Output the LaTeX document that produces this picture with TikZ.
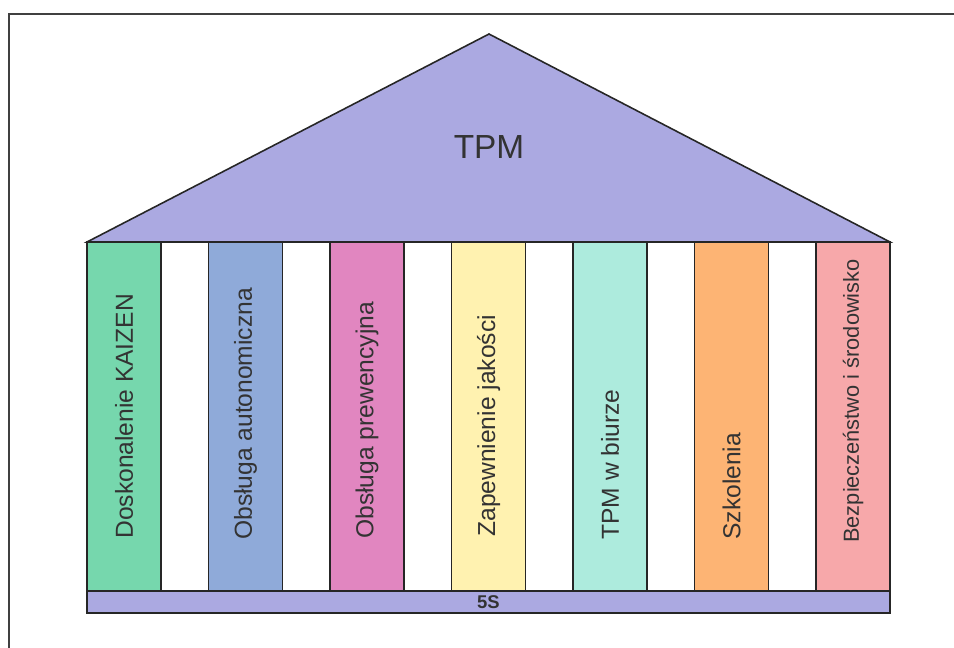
\documentclass[tikz,border=0pt]{standalone}
\usepackage{fontspec}
\setmainfont{Liberation Sans}

\definecolor{roofblue}{HTML}{ABA9E1}
\definecolor{kaizen}{HTML}{76D7AD}
\definecolor{autonom}{HTML}{8FAAD9}
\definecolor{prewenc}{HTML}{E186C0}
\definecolor{jakosc}{HTML}{FFF2B0}
\definecolor{biuro}{HTML}{ADEBDD}
\definecolor{szkol}{HTML}{FDB474}
\definecolor{bezp}{HTML}{F7A8AA}
\definecolor{ink}{HTML}{333333}

\begin{document}
\begin{tikzpicture}[x=0.02cm,y=-0.02cm,
  outline/.style={draw=black!85, line width=0.8pt},
  pillartext/.style={rotate=90, anchor=west, inner sep=0pt, text=ink}]
\useasboundingbox (0,0) rectangle (954,648);
\clip (0,0) rectangle (954,648);
% frame
\draw[line width=1.2pt, black!75] (9,14) rectangle (980,680);
% roof
\draw[outline, fill=roofblue, line width=0.9pt] (87,242) -- (489,34) -- (890,242) -- cycle;
\node[text=ink, font=\fontsize{19}{22}\selectfont] (tpm) at (489,147) {TPM};
% pillars: index/colour/font size/start/label
\foreach \i/\col/\fs/\ys/\txt in {0/kaizen/14/539/Doskonalenie KAIZEN,
                          1/autonom/14/540/Obsługa autonomiczna,
                          2/prewenc/14/539/Obsługa prewencyjna,
                          3/jakosc/14/537/Zapewnienie jakości,
                          4/biuro/14/540/TPM w biurze,
                          5/szkol/14/540/Szkolenia,
                          6/bezp/12.4/543/Bezpieczeństwo i środowisko} {
  \draw[outline, fill=\col] ({87+121.5*\i},242) rectangle ++(74,349);
  \node[pillartext, font=\fontsize{\fs}{16}\selectfont] (p\i) at ({124+121.5*\i},\ys) {\txt};
}
% base
\draw[outline, fill=roofblue] (87,591) rectangle (890,613);
\node[text=ink, font=\fontsize{10.5}{12}\selectfont\bfseries] (base) at (488.5,602.5) {5S};
\end{tikzpicture}
\end{document}
